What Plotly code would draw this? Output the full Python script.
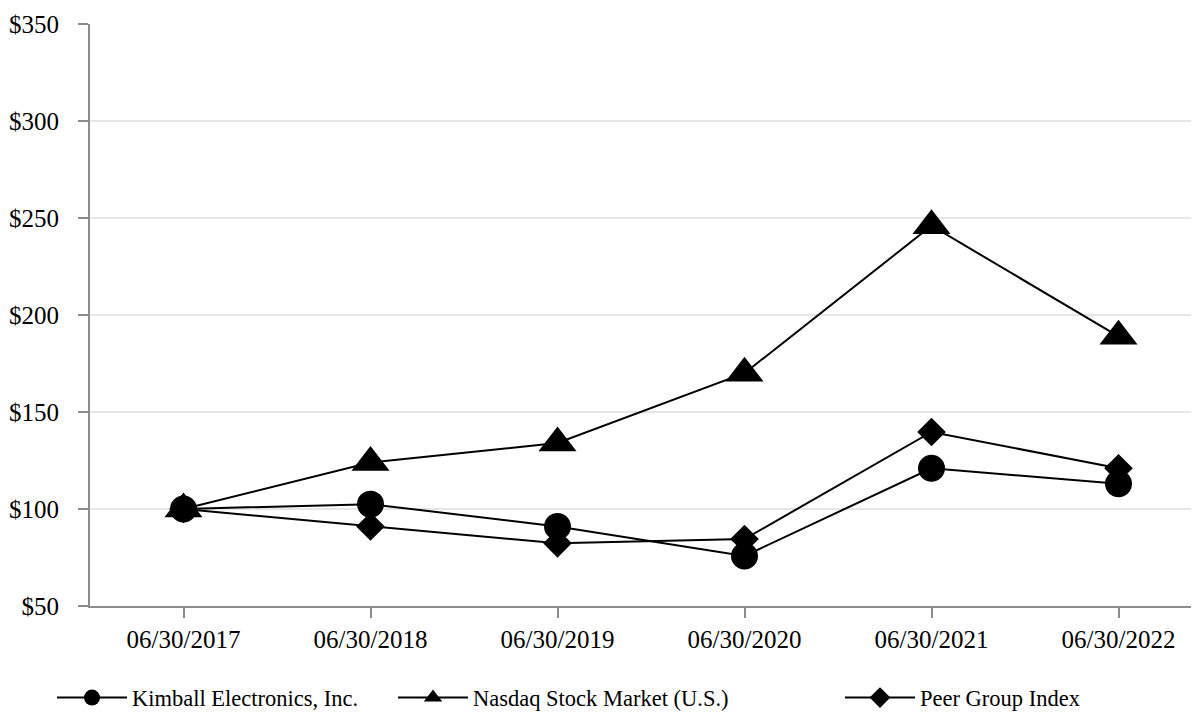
import plotly.graph_objects as go

dates = ["06/30/2017", "06/30/2018", "06/30/2019", "06/30/2020", "06/30/2021", "06/30/2022"]
kimball = [100, 102.5, 91, 75.8, 121, 113]
nasdaq = [100, 124, 134, 170, 246, 189]
peer = [100, 91, 82.3, 84.5, 139.7, 121]
y_ticks = [50, 100, 150, 200, 250, 300, 350]
y_labels = ["$" + str(v) for v in y_ticks]

FONT = "Liberation Serif, Times New Roman, serif"

fig = go.Figure()
series = [
    ("Kimball Electronics, Inc.", kimball, "circle", 27, "legend"),
    ("Nasdaq Stock Market (U.S.)", nasdaq, "triangle-up", 33, "legend2"),
    ("Peer Group Index", peer, "diamond", 22, "legend3"),
]
for name, vals, sym, sz, lg in series:
    fig.add_trace(go.Scatter(
        x=dates, y=vals, name=name, mode="lines+markers", legend=lg,
        line=dict(color="black", width=2),
        marker=dict(symbol=sym, size=sz, color="black", line=dict(width=0)),
    ))

leg_common = dict(orientation="h", y=-0.158, yanchor="middle", xanchor="left",
                  font=dict(size=22.5, family=FONT, color="black"),
                  itemwidth=70, itemsizing="trace", bgcolor="rgba(0,0,0,0)")

PLOT_W = 1199 - 82
fig.update_layout(
    width=1199, height=717,
    margin=dict(l=82, r=0, t=16, b=119),
    paper_bgcolor="white", plot_bgcolor="white",
    font=dict(family=FONT, size=25, color="black"),
    showlegend=True,
    legend=dict(x=-38 / PLOT_W, **leg_common),
    legend2=dict(x=303 / PLOT_W, **leg_common),
    legend3=dict(x=750 / PLOT_W, **leg_common),
)
fig.update_xaxes(
    type="category", range=[-0.5, -0.5 + PLOT_W / 187.0], automargin=False,
    showline=True, linecolor="#8c8c8c", linewidth=2,
    ticks="outside", ticklen=10, tickcolor="#8c8c8c", tickwidth=2,
    showgrid=False, zeroline=False, ticklabelstandoff=0,
)
fig.update_yaxes(
    range=[50, 350], tickvals=y_ticks, ticktext=y_labels, automargin=False,
    showline=True, linecolor="#8c8c8c", linewidth=2,
    ticks="outside", ticklen=10, tickcolor="#8c8c8c", tickwidth=2,
    showgrid=True, gridcolor="#e6e6e6", gridwidth=2, zeroline=False,
    ticklabelstandoff=14,
)

fig.write_html("out.html")
